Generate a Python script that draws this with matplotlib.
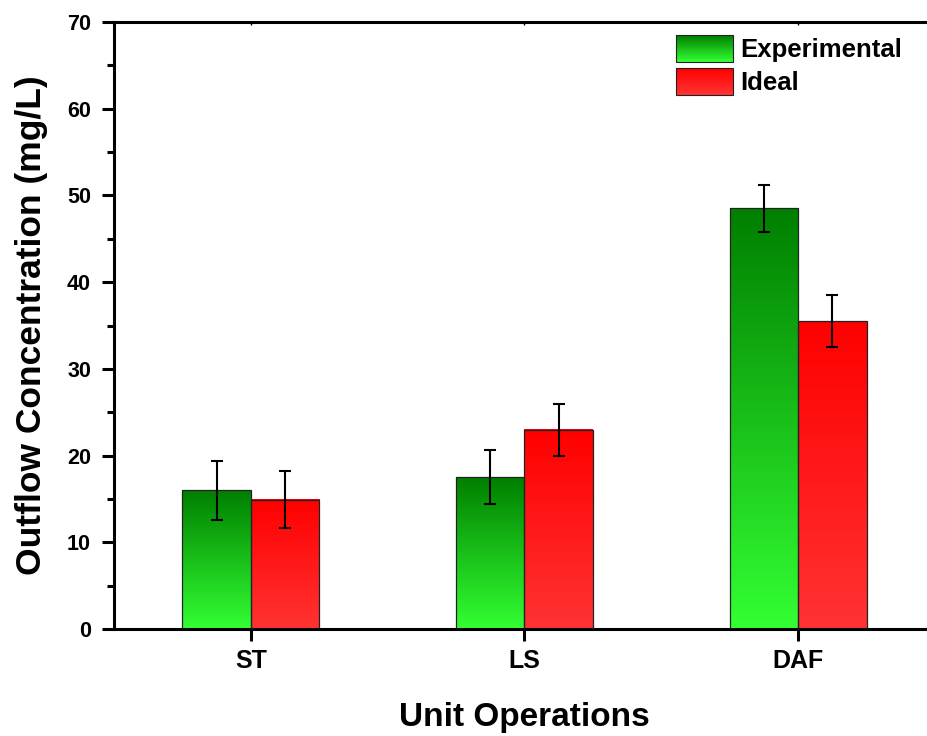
import numpy as np
import matplotlib
matplotlib.use('Agg')
import matplotlib.pyplot as plt
from matplotlib.colors import LinearSegmentedColormap
from matplotlib.patches import Rectangle
from matplotlib.legend_handler import HandlerBase
from matplotlib.ticker import MultipleLocator

plt.rcParams['font.family'] = ['Liberation Sans', 'DejaVu Sans']
plt.rcParams['font.weight'] = 'bold'

# data
categories = ['ST', 'LS', 'DAF']
experimental = [16.0, 17.5, 48.5]
experimental_err = [3.4, 3.1, 2.7]
ideal = [14.9, 23.0, 35.5]
ideal_err = [3.3, 3.0, 3.0]
series_names = ['Experimental', 'Ideal']

BAR_W = 0.25

# bottom colour -> top colour
green_cmap = LinearSegmentedColormap.from_list('g', ['#33ff33', '#007f00'])
red_cmap = LinearSegmentedColormap.from_list('r', ['#ff3333', '#ff0000'])


class GradientHandler(HandlerBase):
    # legend patch drawn as stacked strips so it looks like a gradient
    def __init__(self, cmap, n=30):
        super().__init__()
        self.cmap = cmap
        self.n = n

    def create_artists(self, legend, orig_handle, xdescent, ydescent,
                       width, height, fontsize, trans):
        arts = []
        h = height / self.n
        for i in range(self.n):
            arts.append(Rectangle((-xdescent, -ydescent + i * h), width, h * 1.05,
                                  facecolor=self.cmap(i / (self.n - 1)),
                                  edgecolor='none', transform=trans))
        arts.append(Rectangle((-xdescent, -ydescent), width, height,
                              facecolor='none', edgecolor='#222222',
                              lw=0.8, transform=trans))
        return arts


fig = plt.figure(figsize=(9.28, 7.36), dpi=100)
ax = fig.add_axes([114 / 928, 107 / 736, (935 - 114) / 928, (629 - 22) / 736])

x = np.arange(1, len(categories) + 1)
grad = np.linspace(1, 0, 256)[:, None]

for vals, errs, cmap, off in [(experimental, experimental_err, green_cmap, -BAR_W / 2),
                              (ideal, ideal_err, red_cmap, BAR_W / 2)]:
    xs = x + off
    bars = ax.bar(xs, vals, BAR_W, facecolor='none', edgecolor='#222222',
                  lw=0.9, zorder=3)
    for b in bars:
        x0 = b.get_x()
        ax.imshow(grad, extent=[x0, x0 + BAR_W, 0, b.get_height()],
                  aspect='auto', cmap=cmap, vmin=0, vmax=1,
                  origin='upper', zorder=2, interpolation='bilinear')
    ax.errorbar(xs, vals, yerr=errs, fmt='none', ecolor='black',
                elinewidth=1.5, capsize=4.5, capthick=1.5, zorder=4)

ax.set_xlim(0.5, 3.5)
ax.set_ylim(0, 70)
ax.set_xticks(x)
ax.set_xticklabels(categories)
ax.yaxis.set_major_locator(MultipleLocator(10))
ax.yaxis.set_minor_locator(MultipleLocator(5))

for s in ax.spines.values():
    s.set_linewidth(2.2)
ax.tick_params(axis='both', which='major', direction='out', length=8.5,
               width=2.2, pad=6)
ax.tick_params(axis='y', which='major', labelsize=15.5, pad=8)
ax.tick_params(axis='x', which='major', labelsize=18)
ax.tick_params(axis='y', which='minor', direction='out', length=5, width=2.2)
for lab in ax.get_xticklabels() + ax.get_yticklabels():
    lab.set_fontweight('bold')

top = ax.secondary_xaxis('top')
top.set_xticks(x)
top.tick_params(direction='in', length=2, width=1, labelsize=0, labeltop=False)

ax.set_ylabel('Outflow Concentration (mg/L)', fontsize=25.5, fontweight='bold', labelpad=14)
ax.set_xlabel('Unit Operations', fontsize=24, fontweight='bold', labelpad=21)

h1 = Rectangle((0, 0), 1, 1)
h2 = Rectangle((0, 0), 1, 1)
ax.legend([h1, h2], series_names,
          handler_map={h1: GradientHandler(green_cmap), h2: GradientHandler(red_cmap)},
          loc='upper left', bbox_to_anchor=(676 / 928, 1 - 35 / 736),
          bbox_transform=fig.transFigure, frameon=False, borderpad=0,
          borderaxespad=0, handlelength=2.2, handleheight=1.25,
          labelspacing=0.22, handletextpad=0.31,
          prop={'size': 18.5, 'weight': 'bold'})

fig.savefig('out.png', dpi=100)
